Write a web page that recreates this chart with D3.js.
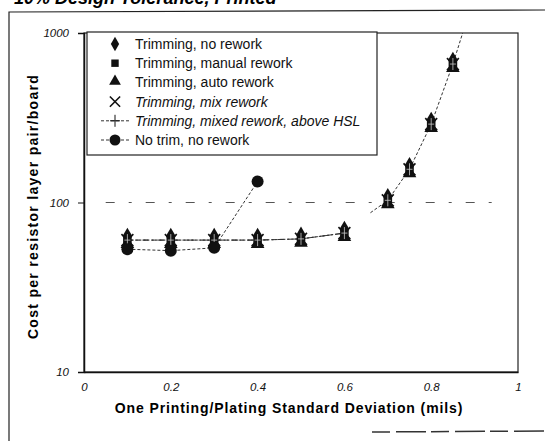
<!DOCTYPE html>
<html>
<head>
<meta charset="utf-8">
<script src="https://cdn.jsdelivr.net/npm/d3@7"></script>
<style>
  html, body { margin: 0; padding: 0; background: #fff; }
  svg { display: block; font-family: "Liberation Sans", Arial, sans-serif; }
  .axis path, .axis line { stroke: #111; }
  .axis text { font-size: 11.5px; fill: #111; font-style: italic; }
  .series { fill: none; stroke: #333; stroke-width: 1; }
  .legend text { font-size: 14px; fill: #111; }
</style>
</head>
<body>
<svg id="chart" width="545" height="441"></svg>
<script>
// values
const sigma      = [0.1, 0.2, 0.3, 0.4, 0.5, 0.6, 0.7, 0.75, 0.8, 0.85];
const trimCost   = [60, 60, 60, 60, 61, 66, 103, 157, 290, 656];
const trimLineTo = 0.6;            // trimming lines are only drawn up to here

const hslSigma   = [0.66, 0.7, 0.75, 0.8, 0.85, 0.88];
const hslCost    = [87, 103, 157, 290, 656, 1150];

const noTrimSigma = [0.1, 0.2, 0.3, 0.4];
const noTrimCost  = [53, 52, 54, 133];

const refLevel = 100;
const refRange = [0.05, 0.97];

const xTicks = [0, 0.2, 0.4, 0.6, 0.8, 1];
const yTicks = [10, 100, 1000];

const legendLabels = [
  "Trimming, no rework",
  "Trimming, manual rework",
  "Trimming, auto rework",
  "Trimming, mix rework",
  "Trimming, mixed rework, above HSL",
  "No trim, no rework"
];

const svg = d3.select("#chart");
const M = { left: 84, right: 518, top: 33, bottom: 372 };

const x = d3.scaleLinear().domain([0, 1]).range([M.left, M.right]);
const y = d3.scaleLog().domain([10, 1000]).range([M.bottom, M.top]);

// outer frame + clipped title of the scanned page
svg.append("text")
  .attr("x", 14).attr("y", 4)
  .style("font-size", "18px").style("font-weight", "bold").style("font-style", "italic")
  .text("10% Design Tolerance, Printed");
svg.append("path").attr("d", "M9,441 L9,12 L545,10").attr("fill", "none").attr("stroke", "#222").attr("stroke-width", 1.2);
svg.append("path").attr("d", "M372,432 L545,431").attr("fill", "none").attr("stroke", "#333")
  .attr("stroke-width", 1.5).attr("stroke-dasharray", "18,6,30,5");

svg.append("clipPath").attr("id", "plot-clip")
  .append("rect").attr("x", M.left).attr("y", M.top)
  .attr("width", M.right - M.left).attr("height", M.bottom - M.top);

// plot border
svg.append("rect")
  .attr("x", M.left).attr("y", M.top)
  .attr("width", M.right - M.left).attr("height", M.bottom - M.top)
  .attr("fill", "none").attr("stroke", "#222").attr("stroke-width", 1.2);

// axes
svg.append("g").attr("class", "axis")
  .attr("transform", `translate(0,${M.bottom})`)
  .call(d3.axisBottom(x).tickValues(xTicks).tickSize(0).tickPadding(11)
    .tickFormat(d => (d === 0 || d === 1) ? d3.format("d")(d) : d3.format(".1f")(d)))
  .call(g => g.select(".domain").attr("stroke-width", 1.5));

svg.append("g").attr("class", "axis")
  .attr("transform", `translate(${M.left},0)`)
  .call(d3.axisLeft(y).tickValues(yTicks).tickSize(6).tickPadding(9).tickFormat(d3.format("d")))
  .call(g => g.select(".domain").attr("stroke-width", 1.5));

// axis titles
svg.append("text")
  .attr("x", (M.left + M.right) / 2 - 12).attr("y", 413)
  .attr("text-anchor", "middle")
  .style("font-size", "14px").style("font-weight", "bold").style("letter-spacing", "0.9px")
  .text("One Printing/Plating Standard Deviation (mils)");

svg.append("text")
  .attr("transform", `translate(38,${(M.top + M.bottom) / 2 + 4}) rotate(-90)`)
  .attr("text-anchor", "middle")
  .style("font-size", "14px").style("font-weight", "bold").style("letter-spacing", "1.3px")
  .text("Cost per resistor layer pair/board");

const plot = svg.append("g").attr("clip-path", "url(#plot-clip)");

// reference level at 100
plot.append("line")
  .attr("x1", x(refRange[0])).attr("x2", x(refRange[1]))
  .attr("y1", y(refLevel)).attr("y2", y(refLevel))
  .attr("stroke", "#555").attr("stroke-width", 1).attr("stroke-dasharray", "9,14,3,14");

const line = d3.line().x(d => x(d[0])).y(d => y(d[1]));
const trimPts = sigma.map((s, i) => [s, trimCost[i]]);
const trimLinePts = trimPts.filter(d => d[0] <= trimLineTo);

// trimming lines (slightly offset dash patterns, they overlap)
["5,3", "2,2", "6,4,1,4"].forEach(dash => {
  plot.append("path").datum(trimLinePts).attr("class", "series")
    .attr("stroke-dasharray", dash).attr("d", line);
});

// above-HSL line
plot.append("path").datum(hslSigma.map((s, i) => [s, hslCost[i]]))
  .attr("class", "series").attr("stroke-dasharray", "3,2").attr("d", line);

// no trim line
plot.append("path").datum(noTrimSigma.map((s, i) => [s, noTrimCost[i]]))
  .attr("class", "series").attr("stroke-dasharray", "3,2").attr("d", line);

// markers
function drawMarker(g, kind, cx, cy, big) {
  const s = big ? 1.35 : 1;
  if (kind === "diamond") {
    g.append("path").attr("transform", `translate(${cx},${cy - (big ? 4 : 0)})`)
      .attr("d", d3.symbol(d3.symbolDiamond, 60 * s)()).attr("fill", "#111");
  } else if (kind === "square") {
    g.append("path").attr("transform", `translate(${cx},${cy})`)
      .attr("d", d3.symbol(d3.symbolSquare, 55 * s)()).attr("fill", "#111");
  } else if (kind === "triangle") {
    g.append("path").attr("transform", `translate(${cx},${cy + (big ? 4 : 0)})`)
      .attr("d", d3.symbol(d3.symbolTriangle, 60 * s)()).attr("fill", "#111");
  } else if (kind === "x") {
    g.append("path").attr("transform", `translate(${cx},${cy})`)
      .attr("d", d3.symbol(d3.symbolX, 70 * s)()).attr("fill", "none")
      .attr("stroke", "#111").attr("stroke-width", 1.6);
  } else if (kind === "plus") {
    g.append("path").attr("transform", `translate(${cx},${cy})`)
      .attr("d", "M-5,0H5M0,-6V6").attr("fill", "none").attr("stroke", "#111").attr("stroke-width", 1);
  } else if (kind === "circle") {
    g.append("circle").attr("cx", cx).attr("cy", cy).attr("r", big ? 6 : 5.5).attr("fill", "#111");
  }
}

const marks = svg.append("g");
trimPts.forEach(d => {
  ["diamond", "square", "triangle", "x"].forEach(k => drawMarker(marks, k, x(d[0]), y(d[1]), true));
  // light plus drawn on top of the stack
  marks.append("path").attr("transform", `translate(${x(d[0])},${y(d[1])})`)
    .attr("d", "M-3,0H3M0,-6V6").attr("stroke", "#ccc").attr("stroke-width", 0.8);
});
noTrimSigma.forEach((s, i) => drawMarker(marks, "circle", x(s), y(noTrimCost[i]), true));

// legend
const leg = svg.append("g").attr("class", "legend");
leg.append("rect").attr("x", 87).attr("y", 32).attr("width", 290).attr("height", 123)
  .attr("fill", "#fff").attr("stroke", "#222").attr("stroke-width", 1.2);

const legKinds = ["diamond", "square", "triangle", "x", "plus", "circle"];
const legendY = d3.scalePoint().domain(d3.range(legendLabels.length)).range([44, 140]);
legendLabels.forEach((lab, i) => {
  const cy = legendY(i);
  if (i >= 4) {
    leg.append("line").attr("x1", 101).attr("x2", 129).attr("y1", cy).attr("y2", cy)
      .attr("stroke", "#333").attr("stroke-dasharray", "3,2");
  }
  const k = legKinds[i];
  if (k === "triangle") drawMarker(leg, k, 115, cy - 1, false);
  else drawMarker(leg, k, 115, cy, false);
  leg.append("text").attr("x", 135).attr("y", cy + 5)
    .style("font-style", (i === 3 || i === 4) ? "italic" : "normal")
    .text(lab);
});
</script>
</body>
</html>
